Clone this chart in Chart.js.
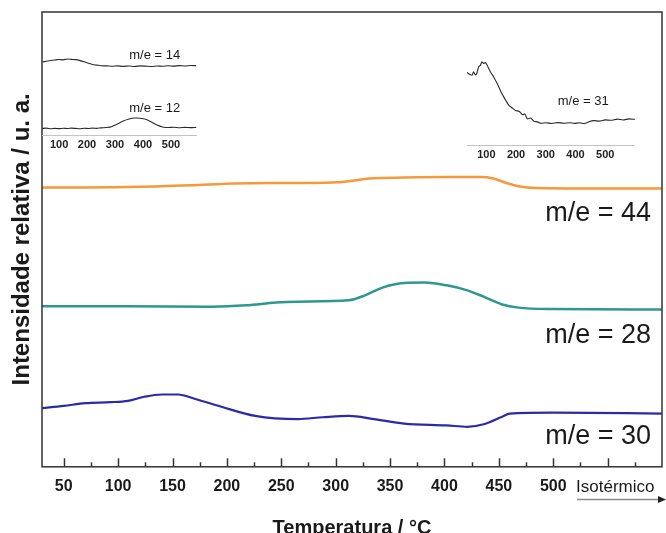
<!DOCTYPE html>
<html>
<head>
<meta charset="utf-8">
<script src="https://cdn.jsdelivr.net/npm/chart.js@4.4.1/dist/chart.umd.min.js"></script>
<style>
  body { margin: 0; background: #fff; }
  #wrap { position: relative; width: 666px; height: 533px; }
  #wrap canvas { position: absolute; }
</style>
</head>
<body>
<div id="wrap">
  <canvas id="main" width="666" height="533" style="left:0;top:0"></canvas>
  <canvas id="insetA" width="155" height="115" style="left:42px;top:40px"></canvas>
  <canvas id="insetB" width="168" height="115" style="left:467px;top:50px"></canvas>
</div>
<script>
// main chart (temperature in °C, intensity in a.u.)
const temp44 = [30, 50, 108, 167, 206, 265, 296, 312, 331, 363, 402, 433, 445, 457, 468, 484, 539, 600];
const int44 = [61.4, 61.4, 61.5, 61.9, 62.3, 62.4, 62.5, 62.8, 63.4, 63.6, 63.7, 63.7, 63.4, 62.4, 61.7, 61.3, 61.2, 61.2];

const temp28 = [30, 108, 187, 218, 245, 265, 312, 327, 343, 363, 382, 402, 421, 437, 453, 468, 500, 600];
const int28 = [35.3, 35.3, 35.2, 35.5, 36.1, 36.3, 36.6, 37.7, 39.4, 40.4, 40.5, 39.9, 38.8, 37.3, 35.7, 35.0, 34.7, 34.6];

const temp30 = [30, 50, 70, 93, 109, 124, 140, 155, 171, 195, 226, 265, 288, 312, 335, 363, 402, 421, 437, 453, 460, 500, 600];
const int30 = [12.9, 13.4, 14.0, 14.2, 14.5, 15.4, 15.9, 15.9, 14.9, 13.2, 11.2, 10.5, 10.9, 11.2, 10.5, 9.5, 9.1, 8.8, 9.4, 11.0, 11.7, 11.9, 11.7];

const tickTemps = [50, 75, 100, 125, 150, 175, 200, 225, 250, 275, 300, 325, 350, 375, 400, 425, 450, 475, 500, 525, 550, 575];
const tickLabels = [50, 100, 150, 200, 250, 300, 350, 400, 450, 500];

// inset A: m/e = 14 and m/e = 12
const tempA = [40, 55, 70, 85, 100, 115, 130, 145, 160, 175, 190, 205, 220, 235, 250, 270, 290, 310, 330, 350, 370, 390, 410, 430, 450, 470, 490, 510, 530, 550, 570, 590];
const int14 = [7.70, 7.78, 7.86, 7.92, 7.97, 7.93, 8.02, 7.98, 7.95, 7.85, 7.72, 7.57, 7.44, 7.38, 7.31, 7.30, 7.26, 7.30, 7.25, 7.29, 7.24, 7.30, 7.27, 7.23, 7.29, 7.26, 7.31, 7.27, 7.33, 7.29, 7.34, 7.32];
const int12 = [0.76, 0.80, 0.74, 0.78, 0.75, 0.79, 0.76, 0.80, 0.77, 0.74, 0.79, 0.76, 0.80, 0.78, 0.83, 0.86, 0.98, 1.25, 1.55, 1.75, 1.86, 1.83, 1.72, 1.45, 1.12, 0.92, 0.86, 0.89, 0.84, 0.88, 0.85, 0.88];

// inset B: m/e = 31
const tempB = [35, 45, 52, 57, 63, 68, 74, 80, 85, 91, 97, 103, 108, 116, 125, 133, 142, 150, 159, 167, 176, 187, 198, 210, 221, 230, 238, 249, 260, 272, 283, 300, 320, 340, 360, 380, 396, 415, 430, 445, 460, 480, 500, 520, 540, 560, 580, 599];
const int31 = [7.65, 7.45, 7.37, 7.72, 7.40, 7.55, 8.24, 8.40, 8.77, 8.60, 8.70, 8.40, 8.07, 7.60, 7.19, 6.70, 6.14, 5.60, 5.08, 4.65, 4.21, 3.95, 3.68, 3.60, 3.26, 3.30, 2.81, 2.90, 2.56, 2.50, 2.35, 2.40, 2.33, 2.42, 2.36, 2.41, 2.34, 2.40, 2.32, 2.50, 2.63, 2.58, 2.71, 2.66, 2.78, 2.70, 2.81, 2.76];
const insetTicks = [100, 200, 300, 400, 500];

const FONT = "'Liberation Sans', Arial, sans-serif";
const toPts = (xs, ys) => xs.map((x, i) => ({ x: x, y: ys[i] }));

// frame, inward ticks, series names and the isothermal arrow
const decorPlugin = {
    id: "decor",
    afterDraw(chart) {
        const ctx = chart.ctx;
        const a = chart.chartArea;
        const xs = chart.scales.x;
        const ys = chart.scales.y;
        ctx.save();
        ctx.strokeStyle = "#333";
        ctx.lineWidth = 1.5;
        ctx.strokeRect(a.left, a.top, a.right - a.left, a.bottom - a.top);

        tickTemps.forEach(t => {
            const px = Math.round(xs.getPixelForValue(t)) + 0.5;
            const len = t % 50 === 0 ? 8.5 : 4.5;
            ctx.beginPath();
            ctx.moveTo(px, a.bottom);
            ctx.lineTo(px, a.bottom - len);
            ctx.stroke();
        });

        ctx.fillStyle = "#1a1a1a";
        ctx.font = "27px " + FONT;
        ctx.textAlign = "right";
        ctx.textBaseline = "middle";
        chart.options.plugins.decor.names.forEach(n => {
            ctx.fillText(n.text, a.right - 11, ys.getPixelForValue(n.y));
        });

        // Isotérmico + arrow
        const x0 = xs.getPixelForValue(521);
        ctx.font = "17px " + FONT;
        ctx.textAlign = "left";
        ctx.fillText("Isotérmico", x0, 487);
        ctx.strokeStyle = "#8a8a8a";
        ctx.lineWidth = 1.5;
        ctx.beginPath();
        ctx.moveTo(x0 + 1, 499.5);
        ctx.lineTo(chart.width - 6, 499.5);
        ctx.stroke();
        ctx.fillStyle = "#222";
        ctx.beginPath();
        ctx.moveTo(chart.width, 499.5);
        ctx.lineTo(chart.width - 8, 496);
        ctx.lineTo(chart.width - 8, 503);
        ctx.closePath();
        ctx.fill();
        ctx.restore();
    }
};

new Chart(document.getElementById("main"), {
    type: "line",
    data: {
        datasets: [
            { data: toPts(temp44, int44), borderColor: "#f5993a", borderWidth: 2.5 },
            { data: toPts(temp28, int28), borderColor: "#2e988e", borderWidth: 2.5 },
            { data: toPts(temp30, int30), borderColor: "#2b2ba6", borderWidth: 2.2 }
        ]
    },
    options: {
        responsive: false,
        animation: false,
        devicePixelRatio: 1,
        elements: { point: { radius: 0 }, line: { tension: 0.35, cubicInterpolationMode: "monotone" } },
        layout: { padding: { top: 12, right: 4, left: 0, bottom: 0 } },
        plugins: {
            legend: { display: false },
            tooltip: { enabled: false },
            decor: {
                names: [
                    { text: "m/e = 44", y: 55.6 },
                    { text: "m/e = 28", y: 28.9 },
                    { text: "m/e = 30", y: 6.6 }
                ]
            }
        },
        scales: {
            x: {
                type: "linear",
                min: 30,
                max: 600,
                afterBuildTicks: s => { s.ticks = tickTemps.map(v => ({ value: v })); },
                ticks: {
                    autoSkip: false,
                    maxRotation: 0,
                    padding: 10,
                    color: "#1a1a1a",
                    font: { family: FONT, size: 16, weight: "bold" },
                    callback: v => tickLabels.includes(v) ? String(v) : ""
                },
                grid: { display: false, drawTicks: false },
                border: { display: false },
                title: {
                    display: true,
                    text: "Temperatura / °C",
                    color: "#1a1a1a",
                    font: { family: FONT, size: 20, weight: "bold" },
                    padding: { top: 10, bottom: -7 }
                }
            },
            y: {
                min: 0,
                max: 100,
                ticks: { display: false },
                grid: { display: false, drawTicks: false },
                border: { display: false },
                title: {
                    display: true,
                    text: "Intensidade relativa / u. a.",
                    color: "#1a1a1a",
                    font: { family: FONT, size: 24, weight: "bold" },
                    padding: { top: 8, bottom: 5.2 }
                }
            }
        }
    },
    plugins: [decorPlugin]
});

// inset labels
const insetLabelPlugin = {
    id: "insetLabels",
    afterDraw(chart) {
        const ctx = chart.ctx;
        ctx.save();
        ctx.fillStyle = "#1a1a1a";
        ctx.font = "13px " + FONT;
        ctx.textAlign = "center";
        ctx.textBaseline = "middle";
        chart.options.plugins.insetLabels.items.forEach(it => {
            ctx.fillText(it.text, chart.scales.x.getPixelForValue(it.x), chart.scales.y.getPixelForValue(it.y));
        });
        ctx.restore();
    }
};

function makeInset(id, xmin, xmax, datasets, labels) {
    return new Chart(document.getElementById(id), {
        type: "line",
        data: { datasets: datasets },
        options: {
            responsive: false,
            animation: false,
            devicePixelRatio: 1,
            elements: { point: { radius: 0 }, line: { tension: 0.2 } },
            layout: { padding: 0 },
            plugins: {
                legend: { display: false },
                tooltip: { enabled: false },
                insetLabels: { items: labels }
            },
            scales: {
                x: {
                    type: "linear",
                    min: xmin,
                    max: xmax,
                    afterBuildTicks: s => { s.ticks = insetTicks.map(v => ({ value: v })); },
                    ticks: {
                        autoSkip: false,
                        maxRotation: 0,
                        padding: 3,
                        color: "#222",
                        font: { family: FONT, size: 11, weight: "bold" }
                    },
                    grid: { display: false, drawTicks: false },
                    border: { display: true, color: "#c4c4c4", width: 1 }
                },
                y: { display: false, min: 0, max: 10 }
            }
        },
        plugins: [insetLabelPlugin]
    });
}

makeInset("insetA", 39, 593, [
    { data: toPts(tempA, int14), borderColor: "#2a2a2a", borderWidth: 1.1 },
    { data: toPts(tempA, int12), borderColor: "#2a2a2a", borderWidth: 1.1 }
], [
    { text: "m/e = 14", x: 442, y: 8.42 },
    { text: "m/e = 12", x: 442, y: 2.84 }
]);

makeInset("insetB", 35, 600, [
    { data: toPts(tempB, int31), borderColor: "#2a2a2a", borderWidth: 1.1 }
], [
    { text: "m/e = 31", x: 426, y: 4.63 }
]);
</script>
</body>
</html>
